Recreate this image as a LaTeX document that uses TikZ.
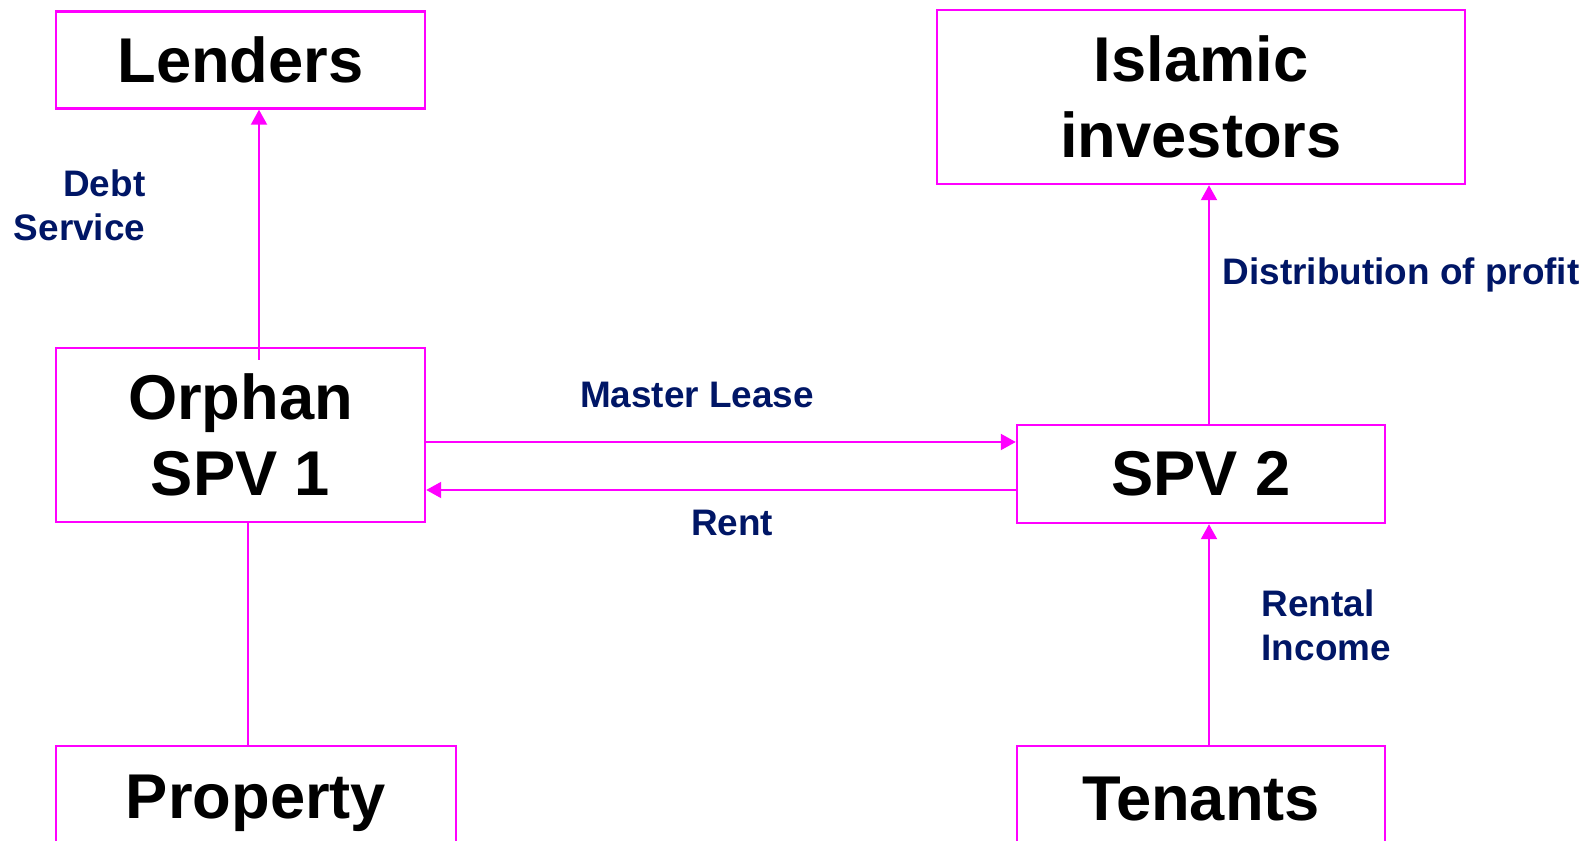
\documentclass[tikz,border=0pt]{standalone}
\usepackage{fontspec}
\setmainfont{Liberation Sans}
\definecolor{flowpink}{RGB}{255,0,255}
\definecolor{labelnavy}{RGB}{0,22,102}
\usetikzlibrary{arrows.meta,positioning,calc}

\begin{document}
\begin{tikzpicture}[
      arr/.style={-{Triangle[length=1.5mm,width=1.6mm]}, line width=0.6pt, flowpink},
      link/.style={line width=0.6pt, flowpink},
      party/.style={draw=flowpink, line width=0.7pt, align=center, inner sep=2pt,
                    font=\fontsize{18}{21.6}\selectfont\bfseries},
      note/.style={text=labelnavy, inner sep=0pt,
                   font=\fontsize{10.5}{12.5}\selectfont\bfseries}
    ]
    \path[use as bounding box, fill=white] (0,-8.41) rectangle (15.96,0);

    \node[party, minimum width=3.69cm, minimum height=0.97cm] (lenders) at (2.405,-0.60) {Lenders};
    \node[party, minimum width=5.28cm, minimum height=1.74cm] (islamic) at (12.01,-0.97) {Islamic\\investors};
    \node[party, minimum width=3.69cm, minimum height=1.74cm] (orphan) at (2.405,-4.35) {Orphan\\SPV 1};
    \node[party, minimum width=3.68cm, minimum height=0.98cm] (spv2) at (12.01,-4.74) {SPV 2};
    \node[party, minimum width=4.00cm, minimum height=1.14cm] (property) at (2.56,-8.03) {Property};
    \node[party, minimum width=3.68cm, minimum height=1.06cm] (tenants) at (12.01,-7.99) {Tenants};

    \node[note, align=right, anchor=east] (debt) at (1.46,-2.05) {Debt\\Service};
    \node[note, anchor=west] (distrib) at (12.22,-2.75) {Distribution of profit};
    \node[note] (master) at (6.97,-3.95) {Master Lease};
    \node[note] (rent) at (7.32,-5.23) {Rent};
    \node[note, align=left, anchor=west] (rental) at (12.61,-6.25) {Rental\\Income};

    \draw[arr] ([xshift=1.85mm,yshift=-1.3mm]orphan.north) -- ([xshift=1.85mm]lenders.south);
    \draw[link] ([xshift=0.75mm]orphan.south) -- ([xshift=0.75mm]orphan.south |- property.north);
    \draw[arr] ([yshift=-0.7mm]orphan.east) -- ([yshift=-0.7mm]orphan.east -| spv2.west);
    \draw[arr] ([yshift=-1.6mm]spv2.west) -- ([yshift=-1.6mm]spv2.west -| orphan.east);
    \draw[arr] ([xshift=0.8mm]spv2.north) -- ([xshift=0.8mm]spv2.north |- islamic.south);
    \draw[arr] ([xshift=0.8mm]tenants.north) -- ([xshift=0.8mm]spv2.south);
  \end{tikzpicture}
\end{document}
